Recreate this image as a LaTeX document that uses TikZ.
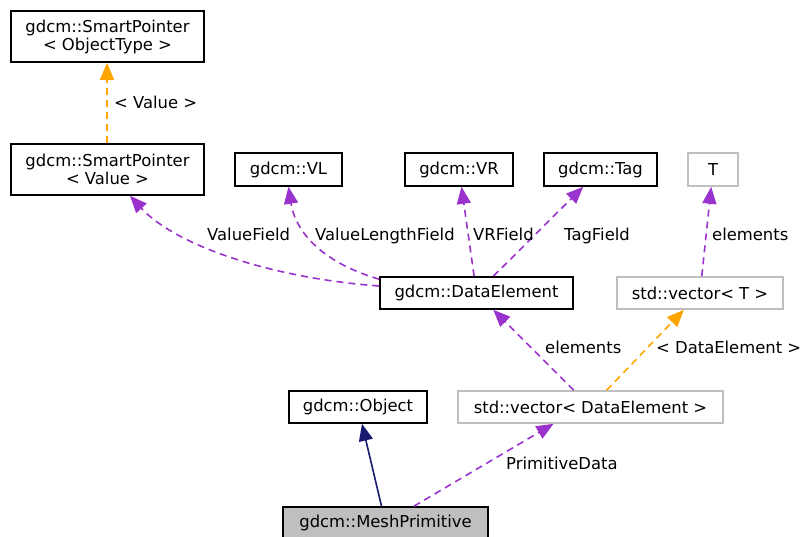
\documentclass[tikz,border=0pt]{standalone}
\usepackage{fontspec}
\setmainfont{DejaVu Sans}
\usetikzlibrary{arrows.meta,calc}
\definecolor{usePurple}{HTML}{9A32CD}
\definecolor{tmplOrange}{HTML}{FFA500}
\definecolor{inhNavy}{HTML}{191970}
\definecolor{boxGrey}{HTML}{BFBFBF}

\begin{document}
\begin{tikzpicture}[x=1pt,y=-1pt,>={Triangle[length=17pt,width=14pt]},
    font=\fontsize{16.4}{18}\selectfont,
    cls/.style={draw=black,line width=1.6pt,inner sep=0pt,align=center},
    tmpl/.style={draw=boxGrey,line width=1.6pt,inner sep=0pt,align=center},
    use/.style={->,usePurple,line width=1.6pt,dash pattern=on 7pt off 5pt},
    inst/.style={->,tmplOrange,line width=1.6pt,dash pattern=on 7pt off 5pt},
    inh/.style={->,inhNavy,line width=1.6pt},
    lbl/.style={anchor=base west,inner sep=0pt}]
    \useasboundingbox (0,0) rectangle (803,536);
    \node[cls,minimum width=193pt,minimum height=51pt] (spo) at (107.5,36.5) {gdcm::SmartPointer\\< ObjectType >};
    \node[cls,minimum width=193pt,minimum height=51pt] (spv) at (107.5,169.5) {gdcm::SmartPointer\\< Value >};
    \node[cls,minimum width=107pt,minimum height=33pt] (vl) at (288.5,169.5) {gdcm::VL};
    \node[cls,minimum width=108pt,minimum height=33pt] (vr) at (459,169.5) {gdcm::VR};
    \node[cls,minimum width=113pt,minimum height=33pt] (tag) at (600.5,169.5) {gdcm::Tag};
    \node[tmpl,minimum width=50pt,minimum height=33pt] (t) at (713,169.5) {T};
    \node[cls,minimum width=193pt,minimum height=32pt] (de) at (476.5,293) {gdcm::DataElement};
    \node[tmpl,minimum width=166pt,minimum height=32pt] (vt) at (700,293) {std::vector< T >};
    \node[cls,minimum width=138pt,minimum height=32pt] (obj) at (358,407) {gdcm::Object};
    \node[tmpl,minimum width=265pt,minimum height=32pt] (vde) at (590.5,407) {std::vector< DataElement >};
    \node[cls,fill=boxGrey,minimum width=205pt,minimum height=32pt] (mp) at (385.5,523) {gdcm::MeshPrimitive};

    \draw[inst] ([xshift=-0.5pt]spv.north) -- ([xshift=-0.5pt]spo.south);
    \draw[use] ([yshift=7pt]de.west) .. controls (270,278) and (175,245) .. ([xshift=22.5pt]spv.south);
    \draw[use] ([yshift=-3pt]de.north west) .. controls (320,262) and (295,230) .. (vl.south);
    \draw[use] (de) -- (vr);
    \draw[use] (de) -- (tag);
    \draw[use] (vt) -- (t);
    \draw[use] (vde) -- (de);
    \draw[inst] (vde) -- (vt);
    \draw[inh] (mp) -- (obj);
    \draw[use] (mp) -- ([xshift=-37pt]vde.south);

    \node[lbl] (lvalue) at (114,108) {< Value >};
    \node[lbl] (lvf) at (207,240) {ValueField};
    \node[lbl] (lvlf) at (315,240) {ValueLengthField};
    \node[lbl] (lvr) at (473,240) {VRField};
    \node[lbl] (ltag) at (564,240) {TagField};
    \node[lbl] (lelt) at (712,240) {elements};
    \node[lbl] (lelde) at (545,353) {elements};
    \node[lbl] (ltde) at (656,353) {< DataElement >};
    \node[lbl] (lprim) at (506,469) {PrimitiveData};
\end{tikzpicture}
\end{document}
